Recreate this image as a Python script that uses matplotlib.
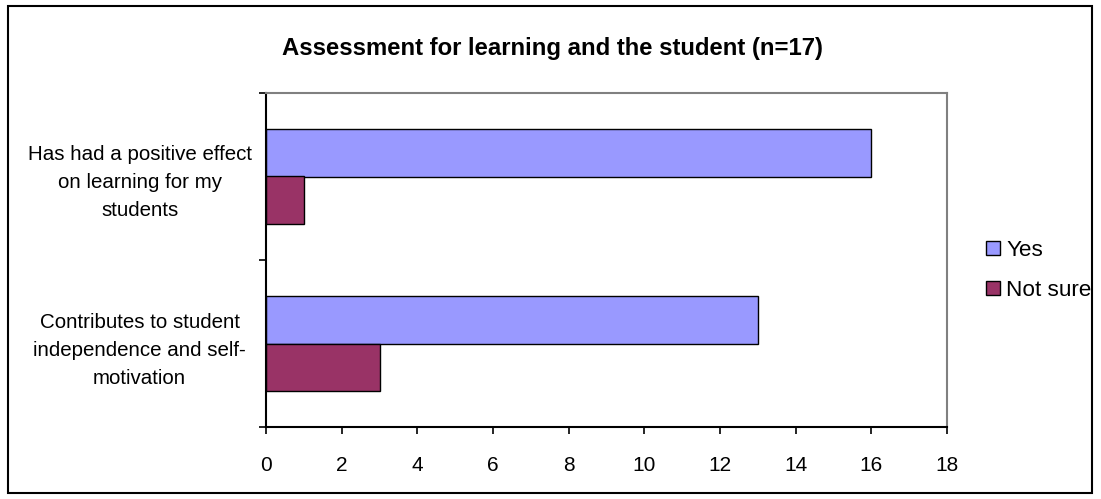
import numpy as np
import matplotlib.pyplot as plt
from matplotlib.patches import Rectangle

plt.rcParams['font.family'] = ['Liberation Sans', 'DejaVu Sans']

categories = ['Contributes to student\nindependence and self-\nmotivation',
              'Has had a positive effect\non learning for my\nstudents']
yes = [13, 16]
not_sure = [3, 1]
series_names = ['Yes', 'Not sure']
colors = ['#9999FF', '#993366']

W, H = 1101, 499
fig = plt.figure(figsize=(W / 100, H / 100), dpi=100)

# outer chart border
fig.patches.append(Rectangle((8 / W, 6 / H), 1084 / W, 487 / H, transform=fig.transFigure,
                             fill=False, edgecolor='black', linewidth=1.5))

ax = fig.add_axes([266 / W, 1 - 427 / H, 681 / W, 334 / H])

h = 1 / 3.5
y = np.arange(len(categories))
ax.barh(y + h / 2, yes, height=h, color=colors[0], edgecolor='black', linewidth=1, label=series_names[0])
ax.barh(y - h / 2, not_sure, height=h, color=colors[1], edgecolor='black', linewidth=1, label=series_names[1])

ax.set_xlim(0, 18)
ax.set_ylim(-0.5, 1.5)
ax.set_xticks(range(0, 19, 2))
ax.set_yticks([-0.5, 0.5, 1.5])
ax.set_yticklabels([])
ax.set_yticks(y, minor=True)
ax.set_yticklabels(categories, minor=True, ha='center', fontsize=14.8, linespacing=1.6)
ax.tick_params(axis='y', which='minor', length=0, pad=91)
ax.tick_params(axis='y', which='major', direction='out', length=5, width=1.2)
ax.tick_params(axis='x', direction='out', length=5, width=1.2, labelsize=15, pad=16)

for s in ['top', 'right']:
    ax.spines[s].set_color('#808080')
    ax.spines[s].set_linewidth(1.5)
for s in ['left', 'bottom']:
    ax.spines[s].set_linewidth(1.5)

fig.text(552 / W, 1 - 48 / H, 'Assessment for learning and the student (n=17)',
         ha='center', va='center', fontsize=17.2, fontweight='bold')

ax.legend(loc='upper left', bbox_to_anchor=(986 / W, 1 - 240 / H), bbox_transform=fig.transFigure,
          frameon=False, fontsize=16.2, handlelength=0.6, handleheight=0.6, handletextpad=0.3,
          labelspacing=0.85, borderpad=0, borderaxespad=0)

fig.savefig('out.png', dpi=100)
